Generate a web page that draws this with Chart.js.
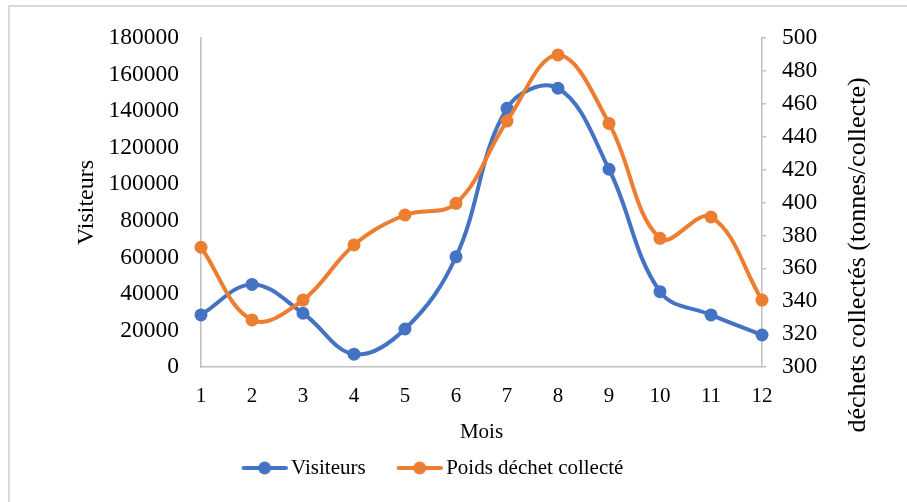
<!DOCTYPE html>
<html>
<head>
<meta charset="utf-8">
<title>Visiteurs et poids des déchets</title>
<script src="https://cdn.jsdelivr.net/npm/chart.js@4.4.0/dist/chart.umd.min.js"></script>
<style>
    html, body { margin: 0; padding: 0; background: #fff; }
    #wrap { width: 907px; height: 502px; }
</style>
</head>
<body>
<div id="wrap"><canvas id="chart" width="907" height="502"></canvas></div>
<script>
// Data
const months = ['1', '2', '3', '4', '5', '6', '7', '8', '9', '10', '11', '12'];
const visiteurs = [28500, 45200, 29400, 7000, 20800, 60300, 141500, 152500, 108200, 41200, 28500, 17500];
const poidsDechets = [372.8, 328.6, 340.7, 374.2, 392.4, 399.5, 449.5, 489.7, 448.1, 378.2, 391.2, 340.7];

// Tick labels of the two value axes
const visiteursTicks = [0, 20000, 40000, 60000, 80000, 100000, 120000, 140000, 160000, 180000];
const poidsTicks = [300, 320, 340, 360, 380, 400, 420, 440, 460, 480, 500];

const BLUE = '#4472C4';
const ORANGE = '#ED7D31';
const AXIS = '#BFBFBF';
const SERIF = '"Liberation Serif", "Times New Roman", serif';

// legend marker: a short line with a dot, like Excel draws it
function makeMarker(color) {
    const c = document.createElement('canvas');
    c.width = 74;
    c.height = 16;
    const g = c.getContext('2d');
    g.strokeStyle = color;
    g.lineWidth = 4;
    g.lineCap = 'round';
    g.beginPath();
    g.moveTo(30, 8);
    g.lineTo(72, 8);
    g.stroke();
    g.fillStyle = color;
    g.beginPath();
    g.arc(51, 8, 6.5, 0, Math.PI * 2);
    g.fill();
    return c;
}
const markers = [makeMarker(BLUE), makeMarker(ORANGE)];

// light frame of the original picture (top and left edges only)
const framePlugin = {
    id: 'frame',
    beforeDraw(chart) {
        const ctx = chart.ctx;
        ctx.save();
        ctx.fillStyle = '#fff';
        ctx.fillRect(0, 0, chart.width, chart.height);
        ctx.strokeStyle = '#D9D9D9';
        ctx.lineWidth = 2;
        ctx.beginPath();
        ctx.moveTo(9, chart.height);
        ctx.lineTo(9, 6);
        ctx.lineTo(chart.width, 6);
        ctx.stroke();
        ctx.restore();
    }
};

// right axis title, placed where Excel put it (not centred on the plot)
const rightTitlePlugin = {
    id: 'rightTitle',
    afterDraw(chart) {
        const ctx = chart.ctx;
        ctx.save();
        ctx.translate(858, 255);
        ctx.rotate(-Math.PI / 2);
        ctx.font = '26px ' + SERIF;
        ctx.fillStyle = '#000';
        ctx.textAlign = 'center';
        ctx.textBaseline = 'middle';
        ctx.fillText('déchets collectés (tonnes/collecte)', 0, 0);
        ctx.restore();
    }
};

Chart.defaults.color = '#000';
Chart.defaults.font.family = SERIF;

new Chart(document.getElementById('chart'), {
    type: 'line',
    data: {
        labels: months,
        datasets: [{
            label: 'Visiteurs',
            data: visiteurs,
            yAxisID: 'y',
            borderColor: BLUE,
            backgroundColor: BLUE,
            borderWidth: 4,
            pointRadius: 6.5,
            pointBorderWidth: 0,
            pointBackgroundColor: BLUE,
            tension: 0.38,
            clip: false,
            order: 1
        }, {
            label: 'Poids déchet collecté',
            data: poidsDechets,
            yAxisID: 'y1',
            borderColor: ORANGE,
            backgroundColor: ORANGE,
            borderWidth: 4,
            pointRadius: 6.5,
            pointBorderWidth: 0,
            pointBackgroundColor: ORANGE,
            tension: 0.38,
            clip: false,
            order: 0
        }]
    },
    options: {
        responsive: false,
        animation: false,
        devicePixelRatio: 1,
        layout: {
            padding: { left: 0, right: 63, top: 38, bottom: 13.5 }
        },
        plugins: {
            tooltip: { enabled: false },
            legend: {
                position: 'bottom',
                labels: {
                    usePointStyle: true,
                    pointStyleWidth: 60,
                    padding: 10,
                    font: { size: 21, family: SERIF },
                    color: '#000',
                    generateLabels(chart) {
                        return chart.data.datasets.map((ds, i) => ({
                            text: ds.label,
                            datasetIndex: i,
                            fillStyle: ds.borderColor,
                            strokeStyle: ds.borderColor,
                            lineWidth: 0,
                            pointStyle: markers[i],
                            hidden: !chart.isDatasetVisible(i)
                        }));
                    }
                }
            }
        },
        scales: {
            x: {
                grid: { display: false, drawTicks: false },
                border: { display: true, color: AXIS, width: 1.5 },
                ticks: {
                    padding: 17,
                    maxRotation: 0,
                    autoSkip: false,
                    font: { size: 21 }
                },
                title: {
                    display: true,
                    text: 'Mois',
                    font: { size: 21 },
                    padding: { top: 0, bottom: 2 }
                },
                afterFit(scale) { scale.height = 80.5; }
            },
            y: {
                position: 'left',
                min: 0,
                max: 180000,
                grid: { display: false, drawTicks: false },
                border: { display: true, color: AXIS, width: 1.5 },
                afterBuildTicks(scale) {
                    scale.ticks = visiteursTicks.map(v => ({ value: v }));
                },
                ticks: {
                    padding: 22,
                    font: { size: 23.5 },
                    callback: v => String(v)
                },
                title: {
                    display: true,
                    text: 'Visiteurs',
                    font: { size: 24 },
                    padding: { top: 72.6, bottom: 0 }
                },
                afterFit(scale) { scale.width = 201; }
            },
            y1: {
                position: 'right',
                min: 300,
                max: 500,
                grid: {
                    display: true,
                    drawOnChartArea: false,
                    drawTicks: true,
                    tickLength: 4,
                    color: AXIS,
                    lineWidth: 1.5
                },
                border: { display: true, color: AXIS, width: 1.5 },
                afterBuildTicks(scale) {
                    scale.ticks = poidsTicks.map(v => ({ value: v }));
                },
                ticks: {
                    padding: 16,
                    font: { size: 23.5 },
                    callback: v => String(v)
                },
                afterFit(scale) { scale.width = 82; }
            }
        }
    },
    plugins: [framePlugin, rightTitlePlugin]
});
</script>
</body>
</html>
